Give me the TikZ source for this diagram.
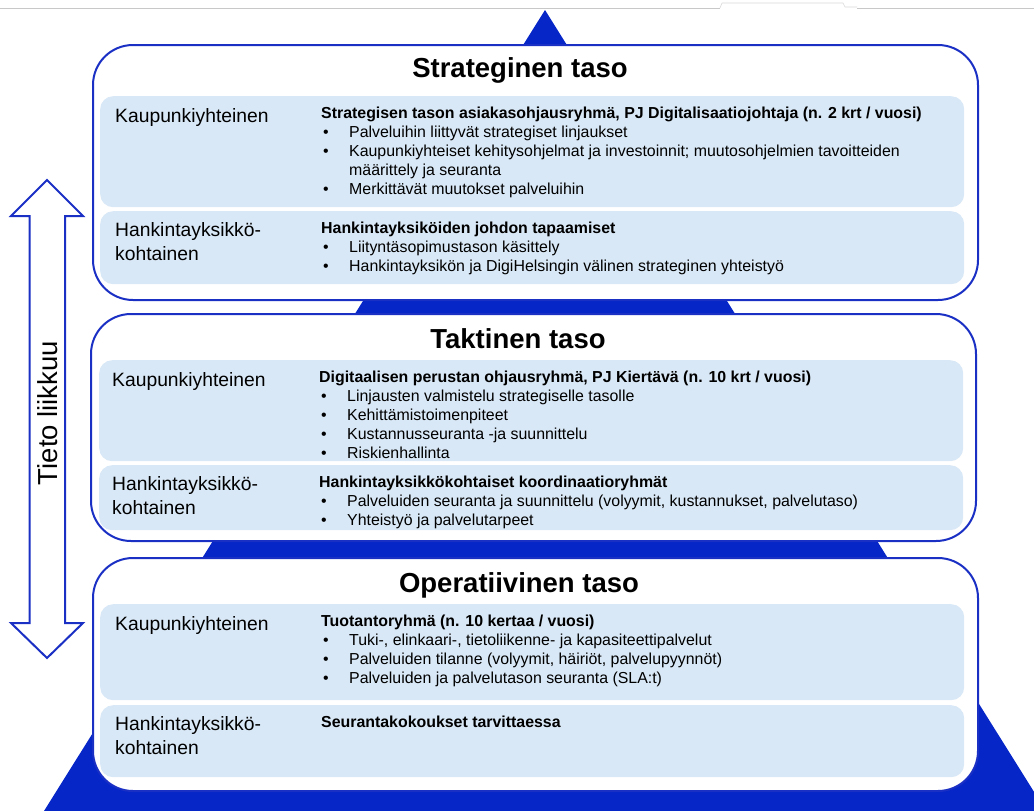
\documentclass[tikz,border=0pt]{standalone}
\usepackage{fontspec}
\setmainfont{Liberation Sans}
\definecolor{pyramid}{HTML}{0626C8}
\definecolor{frame}{HTML}{1A2FC4}
\definecolor{panelblue}{HTML}{D9E8F6}
\definecolor{rule}{HTML}{C8C8C8}

\tikzset{
  level/.style={draw=frame, line width=2pt, fill=white, rounded corners=40pt,
                anchor=north west, inner sep=0pt},
  panel/.style={fill=panelblue, rounded corners=13pt, anchor=north west, inner sep=0pt},
  leveltitle/.style={font=\fontsize{27.5}{33}\selectfont\bfseries, anchor=base, inner sep=0pt},
  lbl/.style={font=\fontsize{19.3}{23}\selectfont, anchor=base west, inner sep=0pt},
  body/.style={font=\fontsize{15.9}{19}\selectfont, anchor=base west, inner sep=0pt},
  head/.style={body, font=\fontsize{15.9}{19}\selectfont\bfseries},
  flowarrow/.style={draw=frame, line width=2pt, fill=white, line join=miter},
}

% one bullet line: name, x of the bullet, baseline y, text
\newcommand\bulletline[4]{%
  \node[body] (#1b) at (#2,#3) {•};
  \node[body] (#1) at ({#2+26},#3) {#4};}

\begin{document}
\begin{tikzpicture}[x=1pt,y=-1pt]
\useasboundingbox (0,0) rectangle (1034,811);
\clip (0,0) rectangle (1034,811);

% thin rule along the top edge
\draw[rule, line width=1pt] (0,8) -- (720,8);
\draw[rule!70, line width=0.6pt] (720,8) -- (722,3) -- (843,3) -- (845,7) -- (857,7);
\draw[rule, line width=1pt] (857,8) -- (1034,8);

% pyramid behind the three levels
\fill[pyramid] (545,10) -- (1046,811) -- (44,811) -- cycle;

% ---------------- strategic level ----------------
\node[level, minimum width=885pt, minimum height=255pt] (strat) at (92,44) {};
\node[leveltitle] (strattitle) at (520,77) {Strateginen taso};
\node[panel, minimum width=864pt, minimum height=111pt] (stratcity) at (100,96) {};
\node[panel, minimum width=864pt, minimum height=73pt] (stratunit) at (100,211) {};

\node[lbl] (stratcitylbl) at (115,122) {Kaupunkiyhteinen};
\node[head] (stratcityhead) at (321,118) {Strategisen tason asiakasohjausryhmä, PJ Digitalisaatiojohtaja (n. 2 krt / vuosi)};
\bulletline{sa1}{323}{137}{Palveluihin liittyvät strategiset linjaukset}
\bulletline{sa2}{323}{156}{Kaupunkiyhteiset kehitysohjelmat ja investoinnit; muutosohjelmien tavoitteiden}
\node[body] (sa2c) at (349,175) {määrittely ja seuranta};
\bulletline{sa3}{323}{194}{Merkittävät muutokset palveluihin}

\node[lbl] (stratunitlbl) at (115,236.5) {Hankintayksikkö-};
\node[lbl] (stratunitlblb) at (115,260) {kohtainen};
\node[head] (stratunithead) at (321,233.5) {Hankintayksiköiden johdon tapaamiset};
\bulletline{sb1}{323}{252.5}{Liityntäsopimustason käsittely}
\bulletline{sb2}{323}{271.5}{Hankintayksikön ja DigiHelsingin välinen strateginen yhteistyö}

% ---------------- tactical level ----------------
\node[level, minimum width=885pt, minimum height=227pt] (takt) at (90,313) {};
\node[leveltitle] (takttitle) at (518,348) {Taktinen taso};
\node[panel, minimum width=864pt, minimum height=101pt] (taktcity) at (99,360) {};
\node[panel, minimum width=864pt, minimum height=65pt] (taktunit) at (99,465) {};

\node[lbl] (taktcitylbl) at (112,386) {Kaupunkiyhteinen};
\node[head] (taktcityhead) at (319,382) {Digitaalisen perustan ohjausryhmä, PJ Kiertävä (n. 10 krt / vuosi)};
\bulletline{ta1}{321}{401}{Linjausten valmistelu strategiselle tasolle}
\bulletline{ta2}{321}{420}{Kehittämistoimenpiteet}
\bulletline{ta3}{321}{439}{Kustannusseuranta -ja suunnittelu}
\bulletline{ta4}{321}{458}{Riskienhallinta}

\node[lbl] (taktunitlbl) at (112,490.5) {Hankintayksikkö-};
\node[lbl] (taktunitlblb) at (112,514) {kohtainen};
\node[head] (taktunithead) at (319,487) {Hankintayksikkökohtaiset koordinaatioryhmät};
\bulletline{tb1}{321}{506}{Palveluiden seuranta ja suunnittelu (volyymit, kustannukset, palvelutaso)}
\bulletline{tb2}{321}{525}{Yhteistyö ja palvelutarpeet}

% ---------------- operational level ----------------
\node[level, minimum width=885pt, minimum height=233pt] (oper) at (92,557) {};
\node[leveltitle] (opertitle) at (519,592) {Operatiivinen taso};
\node[panel, minimum width=864pt, minimum height=96pt] (opercity) at (100,604) {};
\node[panel, minimum width=864pt, minimum height=72pt] (operunit) at (100,705) {};

\node[lbl] (opercitylbl) at (115,630) {Kaupunkiyhteinen};
\node[head] (opercityhead) at (321,626) {Tuotantoryhmä (n. 10 kertaa / vuosi)};
\bulletline{oa1}{323}{645}{Tuki-, elinkaari-, tietoliikenne- ja kapasiteettipalvelut}
\bulletline{oa2}{323}{664}{Palveluiden tilanne (volyymit, häiriöt, palvelupyynnöt)}
\bulletline{oa3}{323}{683}{Palveluiden ja palvelutason seuranta (SLA:t)}

\node[lbl] (operunitlbl) at (115,730.5) {Hankintayksikkö-};
\node[lbl] (operunitlblb) at (115,754) {kohtainen};
\node[head] (operunithead) at (321,727) {Seurantakokoukset tarvittaessa};

% ---------------- information flow arrow ----------------
\coordinate (uptip) at (47,180);
\coordinate (downtip) at (47,658);
\draw[flowarrow] (uptip) -- (83,216) -- (65,216) -- (65,623) -- (83,623) -- (downtip)
  -- (11,623) -- (29.5,623) -- (29.5,216) -- (11,216) -- cycle;
\node[rotate=90, font=\fontsize{27.5}{33}\selectfont, inner sep=0pt] (flow) at (48,413) {Tieto liikkuu};

\end{tikzpicture}
\end{document}
